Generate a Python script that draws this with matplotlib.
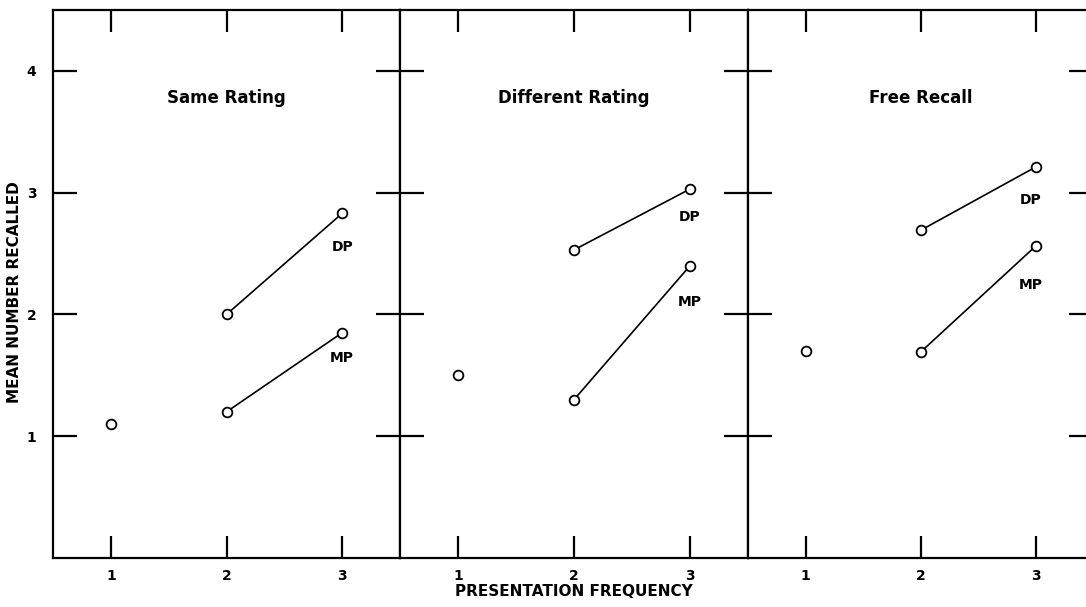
import matplotlib
matplotlib.use("Agg")
import matplotlib.pyplot as plt

# panel data
panels = ["Same Rating", "Different Rating", "Free Recall"]
freq = [1, 2, 3]
single = [1.1, 1.5, 1.7]          # frequency 1, one point per panel
dp_vals = [[2.0, 2.83], [2.53, 3.03], [2.69, 3.21]]
mp_vals = [[1.2, 1.85], [1.3, 2.4], [1.69, 2.56]]
dp_label_pos = [(3.0, 2.55), (3.0, 2.80), (2.96, 2.94)]
mp_label_pos = [(3.0, 1.64), (3.0, 2.10), (2.96, 2.24)]
yticks = [1, 2, 3, 4]

plt.rcParams['font.family'] = ['DejaVu Sans']
plt.rcParams['font.weight'] = 'bold'

fig = plt.figure(figsize=(10.86, 6.07), dpi=100)

left, bottom, height = 53 / 1086, 1 - 558 / 607, (558 - 10) / 607
widths = [347 / 1086, 348 / 1086, 345 / 1086]

x0 = left
for i, name in enumerate(panels):
    ax = fig.add_axes([x0, bottom, widths[i], height])
    x0 += widths[i]

    ax.plot([1], [single[i]], 'o', mfc='white', mec='black', ms=7, mew=1.3)
    ax.plot(freq[1:], dp_vals[i], '-o', color='black', mfc='white', ms=7, mew=1.3, lw=1.2)
    ax.plot(freq[1:], mp_vals[i], '-o', color='black', mfc='white', ms=7, mew=1.3, lw=1.2)

    ax.text(dp_label_pos[i][0], dp_label_pos[i][1], "DP", ha='center', va='center',
            fontsize=10, fontweight='bold')
    ax.text(mp_label_pos[i][0], mp_label_pos[i][1], "MP", ha='center', va='center',
            fontsize=10, fontweight='bold')
    ax.text(2, 3.78, name, ha='center', va='center', fontsize=12, fontweight='bold')

    ax.set_xlim(0.5, 3.5)
    ax.set_ylim(0, 4.5)
    ax.set_xticks(freq)
    ax.set_yticks(yticks)
    ax.tick_params(axis='both', direction='in', width=1.6, labelsize=10)
    ax.tick_params(axis='x', length=16, top=True, pad=8)
    ax.tick_params(axis='y', length=17, right=True, pad=12)
    if i > 0:
        ax.set_yticklabels([])
    for sp in ax.spines.values():
        sp.set_linewidth(1.6)
    for lab in ax.get_xticklabels() + ax.get_yticklabels():
        lab.set_fontweight('bold')
    if i == 1:
        ax.set_xlabel("PRESENTATION FREQUENCY", fontsize=11, fontweight='bold', labelpad=1)

fig.text(15 / 1086, 1 - 292 / 607, "MEAN NUMBER RECALLED", rotation=90, ha='center', va='center',
         fontsize=11, fontweight='bold')

fig.savefig("out.png", dpi=100)
